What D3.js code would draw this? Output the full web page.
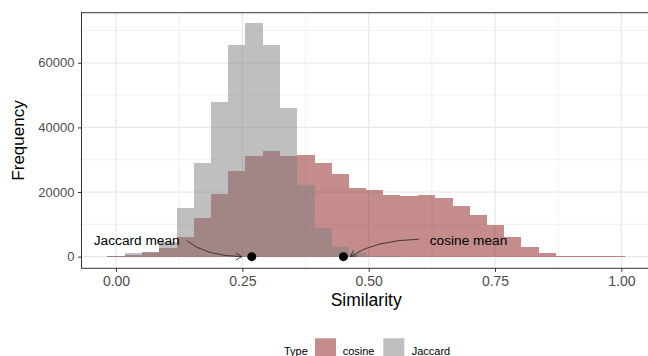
<!DOCTYPE html>
<html><head><meta charset="utf-8">
<script src="https://cdn.jsdelivr.net/npm/d3@7"></script>
<style>body{margin:0;background:#fff} svg{display:block;font-family:"Liberation Sans",Arial,Helvetica,sans-serif}</style>
</head><body><svg id="c" width="648" height="356"></svg>
<script>
// ---- data ----
const binCenters = [0.000,0.034,0.068,0.102,0.137,0.171,0.205,0.239,0.273,0.307,0.341,0.376,0.410,0.444,0.478,0.512,0.546,0.580,0.615,0.649,0.683,0.717,0.751,0.785,0.819,0.854,0.888,0.922,0.956,0.990];
const binWidth = 0.03414;
const cosineCounts = [100,500,1400,2600,6200,12100,19400,26600,31200,32600,31300,31500,29100,25600,21400,20500,19200,18900,19000,18100,15800,12900,9700,6100,3100,1100,300,150,150,150];
const jaccardCounts = [200,1200,1200,4500,15200,29000,47800,65400,72400,65400,46000,22200,8800,3100,1000,300,100,0,0,0,0,0,0,0,0,0,0,0,0,0];
const seriesNames = ["cosine","Jaccard"];
const seriesColors = ["#8b1a1a","#808080"];
const xTicks = [0,0.25,0.5,0.75,1];
const xTickLabels = ["0.00","0.25","0.50","0.75","1.00"];
const xMinor = [0.125,0.375,0.625,0.875];
const yTicks = [0,20000,40000,60000];
const yMinor = [10000,30000,50000,70000];
const meanValues = [0.2686,0.450];
const labelText = ["Jaccard mean","cosine mean"];
const labelPos = [[0.041,5000],[0.6976,5000]];
const arrowStart = [[0.14,5000],[0.600,5400]];
const arrowCtrl = [[0.176,200],[0.5126,5100]];
const arrowEnd = [[0.249,0],[0.464,100]];

// ---- layout ----
const svg = d3.select("#c");
const P = {left:81.5, right:650.8, top:12.7, bottom:268.3};
const x = d3.scaleLinear().domain([-0.0683,1.0583]).range([P.left,P.right]);
const y = d3.scaleLinear().domain([-3600,75500]).range([P.bottom,P.top]);
const grid = "#e8e8e8";

const g = svg.append("g");
// grid
g.selectAll(".ymin").data(yMinor).join("line").attr("x1",P.left).attr("x2",P.right)
 .attr("y1",d=>y(d)).attr("y2",d=>y(d)).attr("stroke",grid).attr("stroke-width",0.6);
g.selectAll(".xmin").data(xMinor).join("line").attr("y1",P.top).attr("y2",P.bottom)
 .attr("x1",d=>x(d)).attr("x2",d=>x(d)).attr("stroke",grid).attr("stroke-width",0.6);
g.selectAll(".ymaj").data(yTicks).join("line").attr("x1",P.left).attr("x2",P.right)
 .attr("y1",d=>y(d)).attr("y2",d=>y(d)).attr("stroke",grid).attr("stroke-width",1.2);
g.selectAll(".xmaj").data(xTicks).join("line").attr("y1",P.top).attr("y2",P.bottom)
 .attr("x1",d=>x(d)).attr("x2",d=>x(d)).attr("stroke",grid).attr("stroke-width",1.2);

// bars: each bar's right edge is the next bar's left edge, snapped to whole pixels
const leftEdge = i => Math.round(x(binCenters[i]-binWidth/2));
const rightEdge = i => i+1<binCenters.length ? leftEdge(i+1) : Math.round(x(binCenters[i]+binWidth/2));
const y0 = Math.round(y(0));
const topY = v => Math.min(y0-1, Math.round(y(v)));
[cosineCounts,jaccardCounts].forEach((counts,si)=>{
  g.append("g")
   .selectAll("rect").data(counts.map((v,i)=>({i,v})).filter(d=>d.v>0))
   .join("rect")
   .attr("x",d=>leftEdge(d.i)).attr("width",d=>rightEdge(d.i)-leftEdge(d.i))
   .attr("y",d=>topY(d.v)).attr("height",d=>y0-topY(d.v))
   .attr("fill",seriesColors[si]).attr("fill-opacity",0.5);
});

// mean points
g.selectAll(".mean").data(meanValues).join("circle")
 .attr("cx",d=>x(d)).attr("cy",y(0)).attr("r",4.5).attr("fill","#000");

// arrows
arrowStart.forEach((s,i)=>{
  const S=[x(s[0]),y(s[1])], C=[x(arrowCtrl[i][0]),y(arrowCtrl[i][1])], E=[x(arrowEnd[i][0]),y(arrowEnd[i][1])];
  const p=d3.path(); p.moveTo(...S); p.quadraticCurveTo(...C,...E);
  g.append("path").attr("d",p.toString()).attr("fill","none").attr("stroke","#222").attr("stroke-width",0.8);
  const ang=Math.atan2(E[1]-C[1],E[0]-C[0]), L=7, a=Math.PI/6;
  const h=d3.path();
  h.moveTo(E[0]-L*Math.cos(ang-a),E[1]-L*Math.sin(ang-a)); h.lineTo(...E);
  h.lineTo(E[0]-L*Math.cos(ang+a),E[1]-L*Math.sin(ang+a));
  g.append("path").attr("d",h.toString()).attr("fill","none").attr("stroke","#222").attr("stroke-width",0.8);
});
// labels
g.selectAll(".lab").data(labelText).join("text")
 .attr("x",(d,i)=>x(labelPos[i][0])).attr("y",(d,i)=>y(labelPos[i][1]))
 .attr("text-anchor","middle").attr("dominant-baseline","central")
 .attr("font-size",13.7).attr("fill","#000").text(d=>d);

// panel border
g.append("rect").attr("x",P.left).attr("y",P.top).attr("width",P.right-P.left).attr("height",P.bottom-P.top)
 .attr("fill","none").attr("stroke","#333").attr("stroke-width",1);

// axes
const xa = svg.append("g").attr("transform",`translate(0,${P.bottom})`)
 .call(d3.axisBottom(x).tickValues(xTicks).tickFormat((d,i)=>xTickLabels[i]).tickSize(3.5).tickPadding(4.5));
const ya = svg.append("g").attr("transform",`translate(${P.left},0)`)
 .call(d3.axisLeft(y).tickValues(yTicks).tickFormat(d3.format("d")).tickSize(3.5).tickPadding(3.5));
[xa,ya].forEach(a=>{
  a.select(".domain").remove();
  a.selectAll(".tick line").attr("stroke","#333");
  a.selectAll(".tick text").attr("fill","#4d4d4d").attr("font-family","Liberation Sans, Arial, sans-serif");
});
xa.selectAll(".tick text").attr("font-size",14);
ya.selectAll(".tick text").attr("font-size",13);

// titles
svg.append("text").attr("x",(P.left+P.right)/2).attr("y",306).attr("text-anchor","middle")
 .attr("font-size",17.5).attr("fill","#000").text("Similarity");
svg.append("text").attr("transform",`translate(24,${(P.top+P.bottom)/2}) rotate(-90)`).attr("text-anchor","middle")
 .attr("font-size",17).attr("fill","#000").text("Frequency");

// legend
const lg = svg.append("g");
lg.append("text").attr("x",284).attr("y",350.7).attr("dominant-baseline","central").attr("font-size",11).text("Type");
const keyX=[315,383.3], labX=[342.7,411.7];
seriesNames.forEach((n,i)=>{
  lg.append("rect").attr("x",keyX[i]).attr("y",338.3).attr("width",21).attr("height",21).attr("fill","#fff");
  lg.append("rect").attr("x",keyX[i]).attr("y",338.3).attr("width",21).attr("height",21)
    .attr("fill",seriesColors[i]).attr("fill-opacity",0.5);
  lg.append("text").attr("x",labX[i]).attr("y",350.7).attr("dominant-baseline","central").attr("font-size",11).text(n);
});
</script></body></html>
